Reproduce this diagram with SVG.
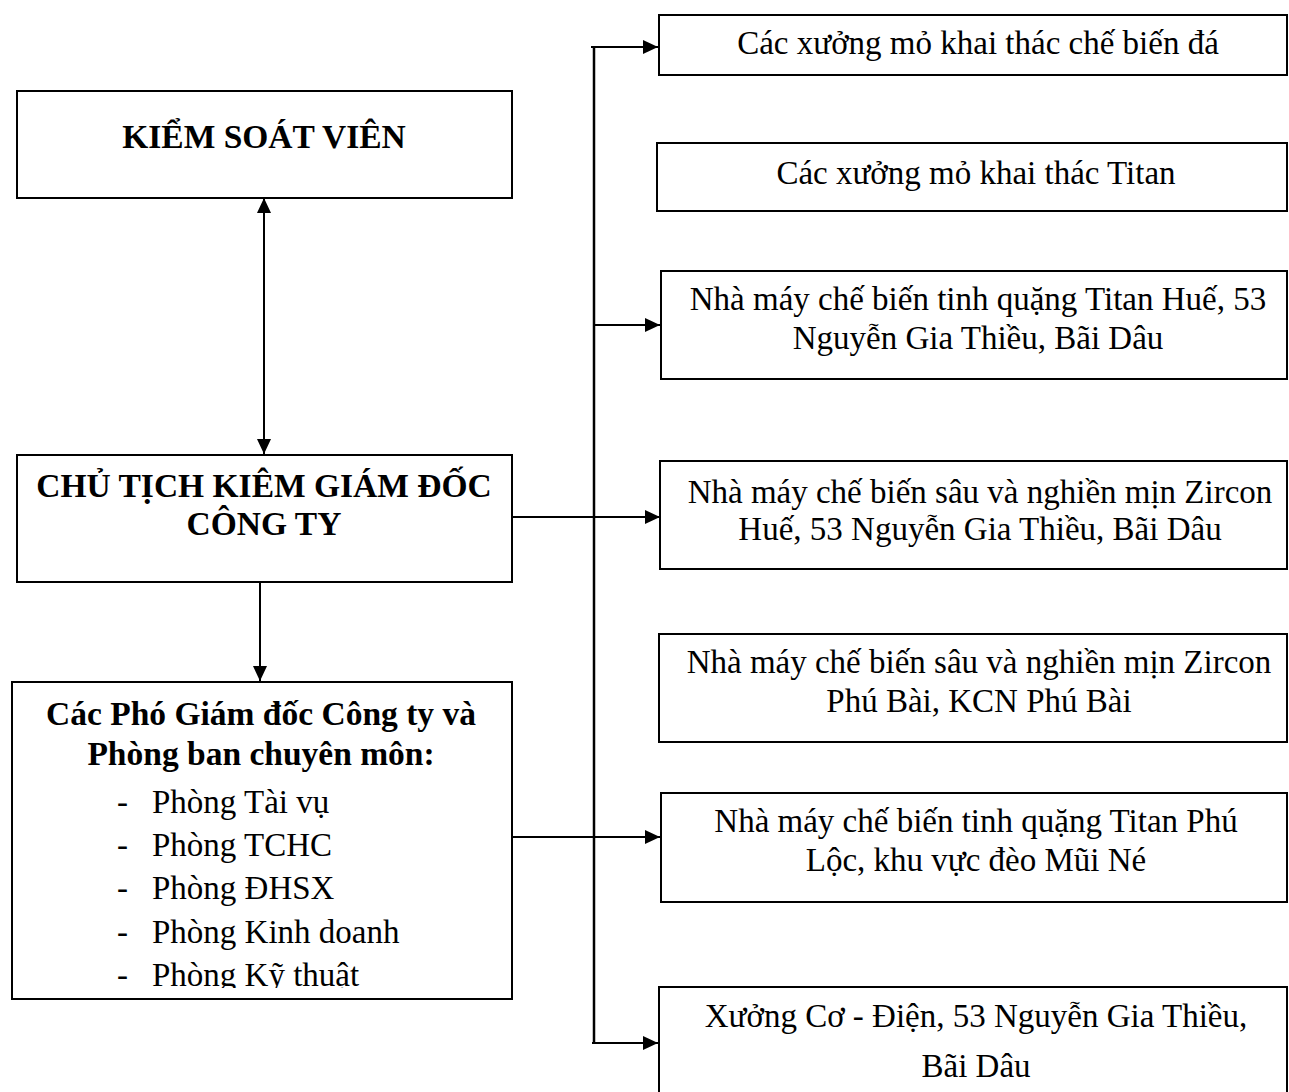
<svg xmlns="http://www.w3.org/2000/svg" width="1289" height="1092" viewBox="0 0 1289 1092">
<style>
.box{fill:#fff;stroke:#000;stroke-width:2}
.t{font-family:"Liberation Serif","Times New Roman",serif;font-size:33px;fill:#000;text-anchor:middle}
.b{font-weight:bold;font-size:33.5px}
.l{text-anchor:start}
.c{fill:none;stroke:#000;stroke-width:2}
</style>
<defs>
<marker id="ah" viewBox="0 0 15 14" refX="15" refY="7" markerWidth="15" markerHeight="14" markerUnits="userSpaceOnUse" orient="auto-start-reverse">
<path d="M0,0 L15,7 L0,14 z" fill="#000"/>
</marker>
<clipPath id="clip3"><rect x="10" y="681" width="503" height="307"/></clipPath>
</defs>
<rect width="1289" height="1092" fill="#fff"/>
<g id="connectors">
<line class="c" x1="264" y1="198" x2="264" y2="454" marker-start="url(#ah)" marker-end="url(#ah)"/>
<line class="c" x1="260" y1="583" x2="260" y2="681" marker-end="url(#ah)"/>
<line class="c" x1="594" y1="47" x2="594" y2="1043" style="stroke-width:2.5"/>
<line class="c" x1="591" y1="47" x2="658" y2="47" marker-end="url(#ah)"/>
<line class="c" x1="593" y1="325" x2="660" y2="325" marker-end="url(#ah)"/>
<line class="c" x1="512" y1="517" x2="660" y2="517" marker-end="url(#ah)"/>
<line class="c" x1="512" y1="837" x2="660" y2="837" marker-end="url(#ah)"/>
<line class="c" x1="592" y1="1043" x2="658" y2="1043" marker-end="url(#ah)"/>
</g>
<g id="kiem-soat-vien">
<rect class="box" x="17" y="91" width="495" height="107"/>
<text class="t b" x="264" y="148">KIỂM SOÁT VIÊN</text>
</g>
<g id="chu-tich">
<rect class="box" x="17" y="455" width="495" height="127"/>
<text class="t b" x="264" y="497">CHỦ TỊCH KIÊM GIÁM ĐỐC</text>
<text class="t b" x="264" y="535">CÔNG TY</text>
</g>
<g id="pho-giam-doc">
<rect class="box" x="12" y="682" width="500" height="317"/>
<text class="t b" x="261" y="725">Các Phó Giám đốc Công ty và</text>
<text class="t b" x="261" y="765">Phòng ban chuyên môn:</text>
<g clip-path="url(#clip3)">
<text class="t l" x="117" y="813">-</text><text class="t l" x="152" y="813">Phòng Tài vụ</text>
<text class="t l" x="117" y="856">-</text><text class="t l" x="152" y="856">Phòng TCHC</text>
<text class="t l" x="117" y="899">-</text><text class="t l" x="152" y="899">Phòng ĐHSX</text>
<text class="t l" x="117" y="943">-</text><text class="t l" x="152" y="943">Phòng Kinh doanh</text>
<text class="t l" x="117" y="986">-</text><text class="t l" x="152" y="986">Phòng Kỹ thuật</text>
</g>
</g>
<g id="xuong-da">
<rect class="box" x="659" y="15" width="628" height="60"/>
<text class="t" x="978" y="54">Các xưởng mỏ khai thác chế biến đá</text>
</g>
<g id="xuong-titan">
<rect class="box" x="657" y="143" width="630" height="68"/>
<text class="t" x="976" y="184">Các xưởng mỏ khai thác Titan</text>
</g>
<g id="nm-titan-hue">
<rect class="box" x="661" y="271" width="626" height="108"/>
<text class="t" x="978" y="310">Nhà máy chế biến tinh quặng Titan Huế, 53</text>
<text class="t" x="978" y="349">Nguyễn Gia Thiều, Bãi Dâu</text>
</g>
<g id="nm-zircon-hue">
<rect class="box" x="660" y="461" width="627" height="108"/>
<text class="t" x="980" y="503">Nhà máy chế biến sâu và nghiền mịn Zircon</text>
<text class="t" x="980" y="540">Huế, 53 Nguyễn Gia Thiều, Bãi Dâu</text>
</g>
<g id="nm-zircon-phu-bai">
<rect class="box" x="659" y="634" width="628" height="108"/>
<text class="t" x="979" y="673">Nhà máy chế biến sâu và nghiền mịn Zircon</text>
<text class="t" x="979" y="712">Phú Bài, KCN Phú Bài</text>
</g>
<g id="nm-titan-phu-loc">
<rect class="box" x="661" y="793" width="626" height="109"/>
<text class="t" x="976" y="832">Nhà máy chế biến tinh quặng Titan Phú</text>
<text class="t" x="976" y="871">Lộc, khu vực đèo Mũi Né</text>
</g>
<g id="xuong-co-dien">
<rect class="box" x="659" y="987" width="628" height="120"/>
<text class="t" x="976" y="1027">Xưởng Cơ - Điện, 53 Nguyễn Gia Thiều,</text>
<text class="t" x="976" y="1077">Bãi Dâu</text>
</g>
</svg>
